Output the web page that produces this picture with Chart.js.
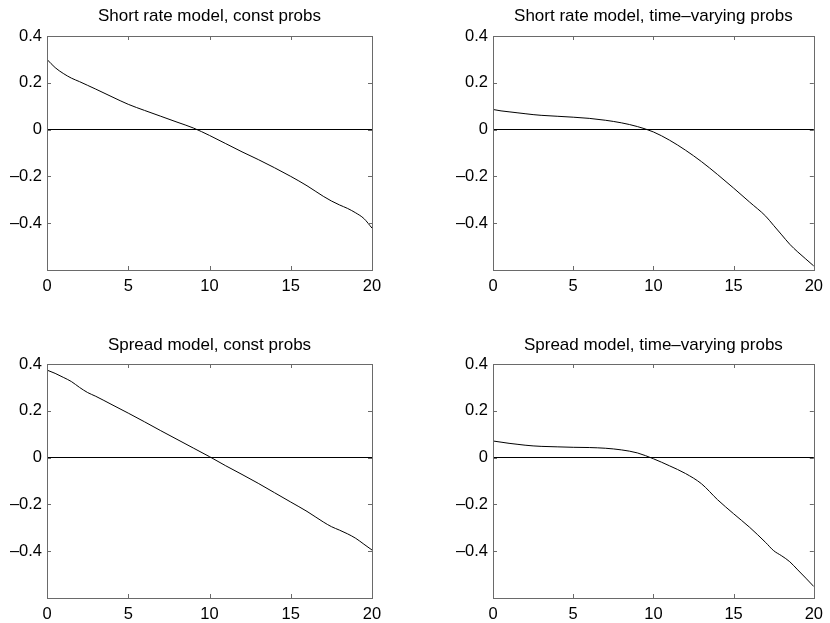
<!DOCTYPE html>
<html>
<head>
<meta charset="UTF-8" />
<title>Short rate and spread models</title>
<script src="https://cdn.jsdelivr.net/npm/chart.js"></script>
<style>
  html, body { margin: 0; padding: 0; background: #fff; }
  #wrap { position: relative; width: 830px; height: 623px; }
  canvas { position: absolute; }
</style>
</head>
<body>
<div id="wrap">
  <canvas id="c1" width="415" height="311" style="left:0;top:0"></canvas>
  <canvas id="c2" width="415" height="311" style="left:415px;top:0"></canvas>
  <canvas id="c3" width="415" height="312" style="left:0;top:311px"></canvas>
  <canvas id="c4" width="415" height="312" style="left:415px;top:311px"></canvas>
</div>

<script>
// horizon (x) values where the curves were read
const xs = [0, 0.5, 1, 1.5, 2, 2.5, 3, 4, 5, 6, 7, 8, 9, 10, 11, 12, 13, 14, 15, 16, 17, 17.5, 18, 18.5, 19, 19.5, 20];

const shortConst = [0.300, 0.265, 0.240, 0.220, 0.205, 0.189, 0.173, 0.140, 0.108, 0.082, 0.057, 0.032, 0.007,
  -0.025, -0.060, -0.095, -0.128, -0.163, -0.200, -0.240, -0.285, -0.305, -0.322, -0.337, -0.356, -0.380, -0.421];

const shortTv = [0.086, 0.080, 0.076, 0.072, 0.068, 0.064, 0.061, 0.057, 0.053, 0.048, 0.040, 0.029, 0.013,
  -0.010, -0.045, -0.088, -0.137, -0.192, -0.250, -0.310, -0.370, -0.410, -0.450, -0.490, -0.523, -0.553, -0.583];

const spreadConst = [0.374, 0.360, 0.343, 0.325, 0.300, 0.278, 0.262, 0.226, 0.190, 0.153, 0.115, 0.078, 0.041,
  0.004, -0.035, -0.072, -0.110, -0.150, -0.190, -0.230, -0.275, -0.295, -0.310, -0.326, -0.345, -0.370, -0.395];

const spreadTv = [0.071, 0.066, 0.061, 0.057, 0.053, 0.050, 0.048, 0.046, 0.044, 0.043, 0.040, 0.033, 0.020,
  -0.005, -0.035, -0.068, -0.112, -0.180, -0.240, -0.298, -0.363, -0.398, -0.420, -0.445, -0.480, -0.515, -0.551];

const titles = [
  'Short rate model, const probs',
  'Short rate model, time\u2013varying probs',
  'Spread model, const probs',
  'Spread model, time\u2013varying probs'
];

const xTicks = [0, 5, 10, 15, 20];
const yTicks = [-0.4, -0.2, 0, 0.2, 0.4];

const FONT = '"Liberation Sans", Arial, Helvetica, sans-serif';

// inward MATLAB-style ticks and a box around the plot area
const boxPlugin = {
  id: 'box',
  afterDraw(chart) {
    const ctx = chart.ctx, a = chart.chartArea;
    const sx = chart.scales.x, sy = chart.scales.y;
    const len = 4;
    ctx.save();
    ctx.strokeStyle = '#6a6a6a';
    ctx.lineWidth = 1;
    ctx.strokeRect(Math.round(a.left) + 0.5, Math.round(a.top) + 0.5,
      Math.round(a.right - a.left), Math.round(a.bottom - a.top));
    ctx.beginPath();
    xTicks.forEach(v => {
      const px = Math.round(sx.getPixelForValue(v)) + 0.5;
      ctx.moveTo(px, a.bottom); ctx.lineTo(px, a.bottom - len);
      ctx.moveTo(px, a.top); ctx.lineTo(px, a.top + len);
    });
    yTicks.forEach(v => {
      const py = Math.round(sy.getPixelForValue(v)) + 0.5;
      ctx.moveTo(a.left, py); ctx.lineTo(a.left + len, py);
      ctx.moveTo(a.right, py); ctx.lineTo(a.right - len, py);
    });
    ctx.stroke();
    ctx.restore();
  }
};

function makeChart(id, values, title, area) {
  const pts = xs.map((x, i) => ({ x: x, y: values[i] }));
  return new Chart(document.getElementById(id), {
    type: 'line',
    data: {
      datasets: [{
        data: pts,
        borderColor: '#000',
        borderWidth: 1,
        pointRadius: 0,
        cubicInterpolationMode: 'monotone'
      }]
    },
    options: {
      responsive: false,
      animation: false,
      layout: { padding: { left: 0, right: area.padRight, top: 0, bottom: 0 } },
      plugins: {
        legend: { display: false },
        tooltip: { enabled: false },
        title: {
          display: true,
          text: title,
          color: '#000',
          fullSize: false,
          font: { family: FONT, size: 17, weight: 'normal', lineHeight: 1.2 },
          padding: { top: area.titleTop, bottom: area.titleBottom }
        }
      },
      scales: {
        x: {
          type: 'linear',
          min: 0, max: 20,
          afterBuildTicks: s => { s.ticks = xTicks.map(v => ({ value: v })); },
          ticks: { color: '#000', padding: 7, font: { family: FONT, size: 16.5 } },
          grid: { drawOnChartArea: false, drawTicks: false },
          border: { display: false },
          afterFit: s => { s.height = area.xHeight; }
        },
        y: {
          min: -0.6, max: 0.4,
          afterBuildTicks: s => { s.ticks = yTicks.map(v => ({ value: v })); },
          ticks: {
            color: '#000', padding: 5, font: { family: FONT, size: 16.5 },
            callback: v => {
              const r = Math.round(v * 10) / 10;
              return r < 0 ? '\u2013' + Math.abs(r) : String(r);
            }
          },
          grid: {
            drawTicks: false,
            color: c => (c.tick && Math.abs(c.tick.value) < 1e-9) ? '#000' : 'rgba(0,0,0,0)',
            lineWidth: 1
          },
          border: { display: false },
          afterFit: s => { s.width = area.yWidth; }
        }
      }
    },
    plugins: [boxPlugin]
  });
}

const topLeft = { yWidth: 47, padRight: 43, xHeight: 41, titleTop: 6, titleBottom: 9.6 };
const topRight = { yWidth: 78, padRight: 11, xHeight: 41, titleTop: 6, titleBottom: 9.6 };
const botLeft = { yWidth: 47, padRight: 43, xHeight: 25, titleTop: 24, titleBottom: 8.6 };
const botRight = { yWidth: 78, padRight: 11, xHeight: 25, titleTop: 24, titleBottom: 8.6 };

makeChart('c1', shortConst, titles[0], topLeft);
makeChart('c2', shortTv, titles[1], topRight);
makeChart('c3', spreadConst, titles[2], botLeft);
makeChart('c4', spreadTv, titles[3], botRight);
</script>
</body>
</html>
